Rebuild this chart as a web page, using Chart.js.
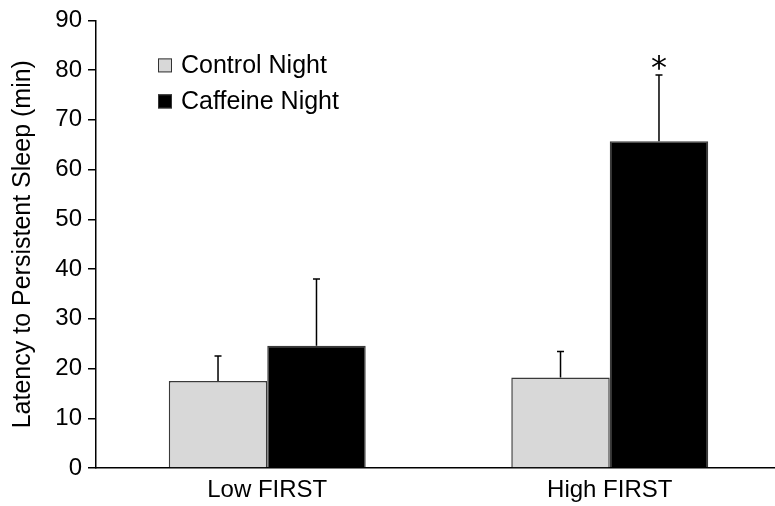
<!DOCTYPE html>
<html>
<head>
<meta charset="utf-8">
<script src="https://cdn.jsdelivr.net/npm/chart.js@4/dist/chart.umd.min.js"></script>
<style>
  html, body { margin: 0; padding: 0; background: #fff; overflow: hidden; }
  #wrap { position: relative; width: 781px; height: 506px; }
</style>
</head>
<body>
<div id="wrap"><canvas id="c"></canvas></div>
<script>
// ---- data ----
const categories = ['Low FIRST', 'High FIRST'];
const seriesNames = ['Control Night', 'Caffeine Night'];
const controlMeans = [17.5, 18.2];
const controlSEM = [5.0, 5.2];
const caffeineMeans = [24.6, 65.7];
const caffeineSEM = [13.4, 13.3];
const caffeineMarks = ['', '*'];
const controlMarks = ['', ''];
const yTickValues = [0, 10, 20, 30, 40, 50, 60, 70, 80, 90];
const yTitle = 'Latency to Persistent Sleep (min)';

const FONT = "'Liberation Sans', Arial, sans-serif";

const errorBarPlugin = {
  id: 'errorBars',
  afterDatasetsDraw(chart) {
    const ctx = chart.ctx;
    const yScale = chart.scales.y;
    chart.data.datasets.forEach((ds, di) => {
      const meta = chart.getDatasetMeta(di);
      meta.data.forEach((bar, i) => {
        const top = ds.data[i] + ds.sem[i];
        const yTop = yScale.getPixelForValue(top);
        ctx.save();
        ctx.strokeStyle = '#000';
        ctx.lineWidth = 1.5;
        ctx.beginPath();
        ctx.moveTo(bar.x, bar.y);
        ctx.lineTo(bar.x, yTop);
        ctx.moveTo(bar.x - 3.5, yTop);
        ctx.lineTo(bar.x + 3.5, yTop);
        ctx.stroke();
        const mark = ds.marks[i];
        if (mark) {
          ctx.fillStyle = '#000';
          ctx.font = "32px 'DejaVu Sans', sans-serif";
          ctx.textAlign = 'center';
          ctx.textBaseline = 'alphabetic';
          ctx.fillText(mark, bar.x, yTop + 3);
        }
        ctx.restore();
      });
    });
  }
};

const insideLegendPlugin = {
  id: 'insideLegend',
  afterDraw(chart) {
    const ctx = chart.ctx;
    const x0 = chart.chartArea.left + 62;
    const y0 = chart.chartArea.top + 45;
    chart.data.datasets.forEach((ds, i) => {
      const y = y0 + i * 36;
      ctx.save();
      ctx.fillStyle = ds.backgroundColor;
      ctx.fillRect(x0, y - 7, 14, 14);
      ctx.strokeStyle = '#333';
      ctx.lineWidth = 1;
      ctx.strokeRect(x0 + 0.5, y - 6.5, 13, 13);
      ctx.fillStyle = '#000';
      ctx.font = '25px ' + FONT;
      ctx.textAlign = 'left';
      ctx.textBaseline = 'middle';
      ctx.fillText(ds.label, x0 + 23, y + 1);
      ctx.restore();
    });
  }
};

new Chart(document.getElementById('c'), {
  type: 'bar',
  data: {
    labels: categories,
    datasets: [
      {
        label: seriesNames[0],
        data: controlMeans,
        sem: controlSEM,
        marks: controlMarks,
        backgroundColor: '#d8d8d8',
        borderColor: '#3a3a3a',
        borderWidth: 1.5,
        borderSkipped: 'start'
      },
      {
        label: seriesNames[1],
        data: caffeineMeans,
        sem: caffeineSEM,
        marks: caffeineMarks,
        backgroundColor: '#000000',
        borderColor: '#3a3a3a',
        borderWidth: 1.5,
        borderSkipped: 'start'
      }
    ]
  },
  options: {
    responsive: true,
    maintainAspectRatio: false,
    animation: false,
    devicePixelRatio: 1,
    layout: { padding: { left: 0, right: 0, top: 20, bottom: 0 } },
    plugins: {
      legend: { display: false },
      tooltip: { enabled: false },
      title: { display: false }
    },
    datasets: {
      bar: { categoryPercentage: 0.575, barPercentage: 1.0 }
    },
    scales: {
      x: {
        grid: { display: false, drawTicks: false },
        border: { display: true, color: '#000', width: 1.5 },
        ticks: { color: '#000', font: { family: FONT, size: 24 }, padding: 8 },
        afterFit(scale) { scale.height = 38; }
      },
      y: {
        min: 0,
        max: 90,
        afterBuildTicks(scale) { scale.ticks = yTickValues.map(v => ({ value: v })); },
        grid: { display: true, drawOnChartArea: false, drawTicks: true, tickLength: 8, color: '#000', lineWidth: 1.5 },
        border: { display: true, color: '#000', width: 1.5 },
        ticks: { color: '#000', font: { family: FONT, size: 24 }, padding: 6 },
        title: {
          display: true,
          text: yTitle,
          color: '#000',
          font: { family: FONT, size: 25 },
          padding: { top: 8, bottom: 0 }
        },
        afterFit(scale) { scale.width = 96; }
      }
    }
  },
  plugins: [errorBarPlugin, insideLegendPlugin]
});
</script>
</body>
</html>
